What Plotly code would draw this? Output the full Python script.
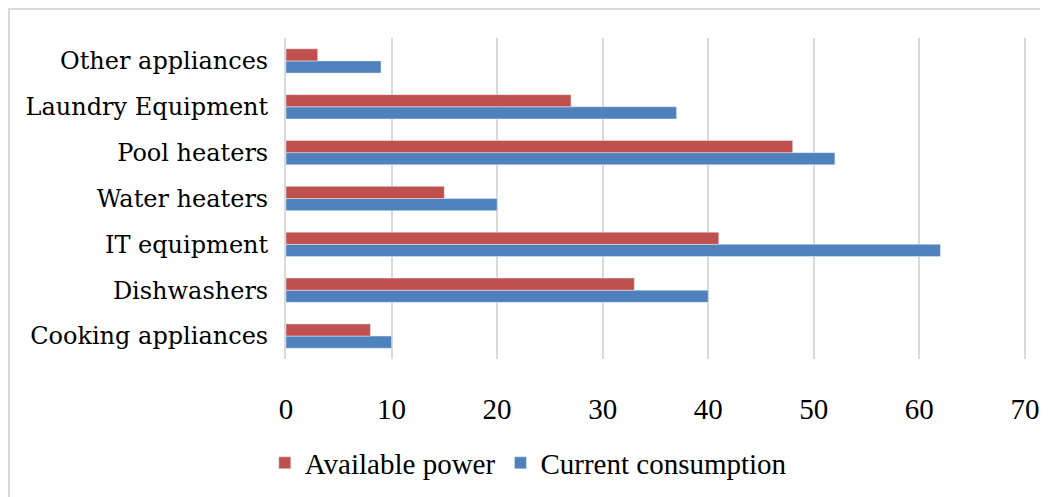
import plotly.graph_objects as go

categories = ["Cooking appliances", "Dishwashers", "IT equipment", "Water heaters",
              "Pool heaters", "Laundry Equipment", "Other appliances"]
available_power = [8, 33, 41, 15, 48, 27, 3]
current_consumption = [10, 40, 62, 20, 52, 37, 9]
x_ticks = [0, 10, 20, 30, 40, 50, 60, 70]

fig = go.Figure()
fig.add_trace(go.Bar(y=categories, x=current_consumption, orientation="h",
                     name="Current consumption", marker_color="#4f81bd",
                     legendrank=2))
fig.add_trace(go.Bar(y=categories, x=available_power, orientation="h",
                     name="Available power", marker_color="#c0504d",
                     legendrank=1))

W, H = 1040, 489
L, R, T, B = 278, 21, 30, 138
pw, ph = W - L - R, H - T - B

fig.update_layout(
    width=W, height=H,
    margin=dict(l=L, r=R, t=T, b=B, autoexpand=False),
    paper_bgcolor="white", plot_bgcolor="white",
    barmode="group", bargap=0.47, bargroupgap=0,
    font=dict(family="Liberation Serif", color="black"),
    showlegend=True,
    legend=dict(orientation="h", x=0.327, xanchor="center", y=-0.324, yanchor="middle",
                font=dict(size=29, family="Liberation Serif"), itemwidth=30,
                tracegroupgap=0),
    xaxis=dict(range=[0, 70.2], tickvals=x_ticks, showgrid=True, gridcolor="#d9d9d9",
               gridwidth=2, zeroline=False, showline=False, automargin=False,
               tickfont=dict(size=29, family="Liberation Serif"),
               ticks="", ticklabelstandoff=30),
    yaxis=dict(categoryorder="array", categoryarray=categories, automargin=False,
               showline=True, linecolor="#d9d9d9", linewidth=2,
               tickfont=dict(size=24, family="DejaVu Serif"), ticks="",
               ticklabelstandoff=11),
    shapes=[dict(type="rect", xref="paper", yref="paper",
                 x0=(1 - L) / pw, x1=(W + 20 - L) / pw,
                 y0=-(B + 20) / ph, y1=(ph + T - 1) / ph,
                 line=dict(color="#d9d9d9", width=2), layer="below")],
)

fig.write_html("out.html")
